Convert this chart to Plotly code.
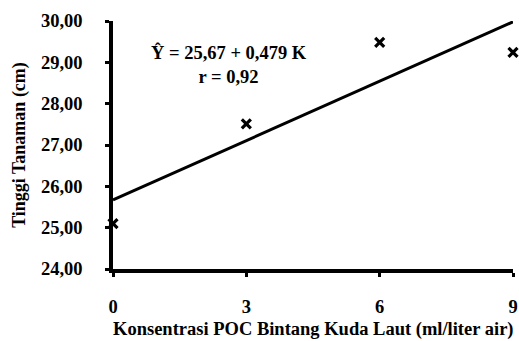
import plotly.graph_objects as go

konsentrasi = [0, 3, 6, 9]
tinggi = [25.10, 27.51, 29.48, 29.24]
intercept = 25.67
slope = 0.479
x_ticks = [0, 3, 6, 9]
y_ticks = [24, 25, 26, 27, 28, 29, 30]
y_ticklabels = ["24,00", "25,00", "26,00", "27,00", "28,00", "29,00", "30,00"]

line_x = [min(konsentrasi), max(konsentrasi)]
line_y = [intercept + slope * v for v in line_x]

FONT = "'Liberation Serif', 'Times New Roman', Times, serif"
FS = 18.5

fig = go.Figure()
fig.add_trace(go.Scatter(x=line_x, y=line_y, mode="lines",
                         line=dict(color="black", width=3), cliponaxis=False,
                         showlegend=False))
fig.add_trace(go.Scatter(x=konsentrasi, y=tinggi, mode="markers",
                         marker=dict(symbol="x-thin", size=9, color="black",
                                     line=dict(color="black", width=3.2)),
                         cliponaxis=False, showlegend=False))

fig.add_annotation(x=2.61, y=28.95, xref="x", yref="y",
                   xanchor="center", yanchor="middle",
                   text="<b>Ŷ = 25,67 + 0,479 K</b><br><b>r = 0,92</b>",
                   showarrow=False, align="center",
                   font=dict(family=FONT, size=FS, color="black"))

# x-axis title placed as paper annotation
fig.add_annotation(x=0.5, y=-60 / 248, xref="paper", yref="paper",
                   xanchor="center", yanchor="middle",
                   text="<b>Konsentrasi POC Bintang Kuda Laut (ml/liter air)</b>",
                   showarrow=False,
                   font=dict(family=FONT, size=FS, color="black"))

fig.update_layout(
    width=519, height=341,
    margin=dict(l=113, r=6, t=21, b=72),
    plot_bgcolor="white", paper_bgcolor="white",
    font=dict(family=FONT, color="black"),
    xaxis=dict(range=[0, 9], tickvals=x_ticks, automargin=False,
               ticktext=["<b>%s</b>" % t for t in x_ticks],
               showgrid=False, zeroline=False, showline=True, linecolor="black",
               linewidth=3.5, ticks="outside", ticklen=4, tickwidth=3, tickcolor="black",
               tickfont=dict(family=FONT, size=FS, color="black"),
               ticklabelstandoff=14),
    yaxis=dict(range=[24, 30], tickvals=y_ticks, automargin=False,
               ticktext=["<b>%s</b>" % t for t in y_ticklabels],
               showgrid=False, zeroline=False, showline=True, linecolor="black",
               linewidth=3.5, ticks="outside", ticklen=4, tickwidth=3, tickcolor="black",
               tickfont=dict(family=FONT, size=FS, color="black"),
               ticklabelstandoff=19,
               title=dict(text="<b>Tinggi Tanaman (cm)</b>",
                          font=dict(family=FONT, size=18, color="black"), standoff=12)),
)

fig.write_html("out.html", config={"displayModeBar": False},
               post_script="document.body.style.margin='0';")
